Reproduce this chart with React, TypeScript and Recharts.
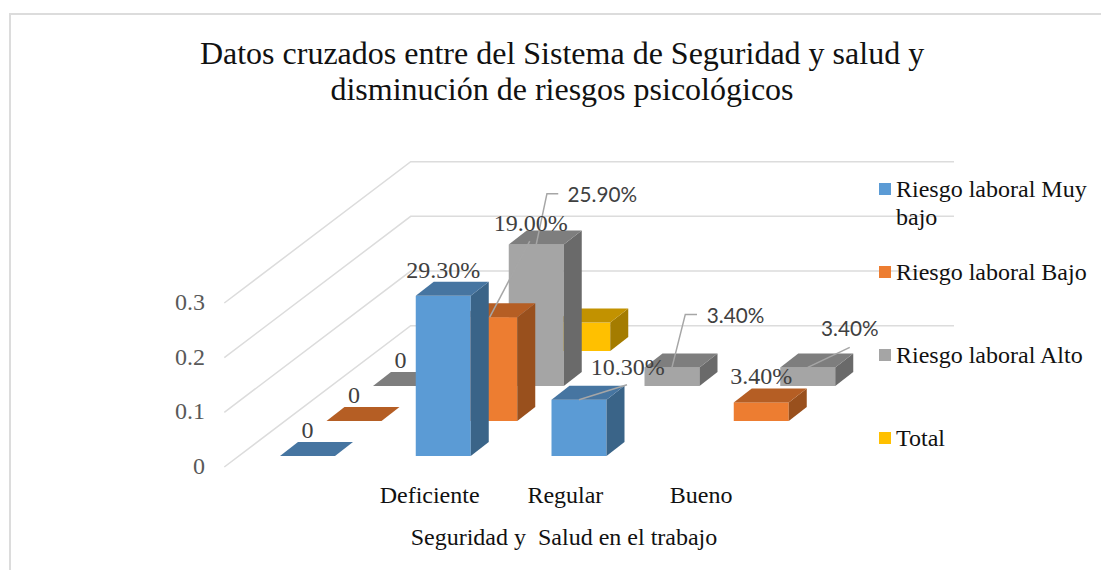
import React from "react";
import { BarChart, Bar, XAxis, YAxis, CartesianGrid, Legend, LabelList } from "recharts";

const categories = ["", "Deficiente", "Regular", "Bueno"];
const muyBajo = [0, 0.293, 0.103, null];
const bajo = [0, 0.19, null, 0.034];
const alto = [0, 0.259, 0.034, 0.034];
const total = [null, 0.052, null, null];
const yTicks = [0, 0.1, 0.2, 0.3];

const rows = categories.map((category, i) => ({
  category,
  muyBajo: muyBajo[i],
  bajo: bajo[i],
  alto: alto[i],
  total: total[i],
}));

const FONT = "'Liberation Serif', 'Times New Roman', serif";
const BAR_W = 55;
const STEP_X = 46.5;
const STEP_Y = 35;
const SIDE_X = 18;
const SIDE_Y = 14;

const SERIES = [
  { key: "muyBajo", name: "Riesgo laboral Muy bajo", depth: 0, front: "#5b9bd5", top: "#4675a1", side: "#3a6488", labelled: true },
  { key: "bajo", name: "Riesgo laboral Bajo", depth: 1, front: "#ed7d31", top: "#b55e24", side: "#99501d", labelled: true },
  { key: "alto", name: "Riesgo laboral Alto", depth: 2, front: "#a5a5a5", top: "#7e7e7e", side: "#6a6a6a", labelled: true },
  { key: "total", name: "Total", depth: 3, front: "#ffc000", top: "#c29200", side: "#a47c00", labelled: false },
];

type Callout = { line: number[][]; dx: number; dy: number; sans?: boolean };
const CALLOUTS: Record<string, Callout> = {
  "bajo-1": { line: [[0, 0], [40, -76]], dx: 41, dy: -86 },
  "alto-1": { line: [[0, 0], [10.7, -50.7], [22, -50.7]], dx: 66, dy: -42, sans: true },
  "muyBajo-2": { line: [[0, 0], [48, -15]], dx: 48.7, dy: -25 },
  "alto-2": { line: [[0, 0], [13.3, -53], [25, -53]], dx: 63.5, dy: -44, sans: true },
  "alto-3": { line: [[0, 0], [42, -20]], dx: 42, dy: -31, sans: true },
};

function boxShape(s: (typeof SERIES)[number]) {
  return (props: any) => {
    const { x, y, width, height, payload } = props;
    if (payload == null || payload[s.key] == null) return <g />;
    const left = x + s.depth * STEP_X;
    const right = left + width;
    const top = y - s.depth * STEP_Y;
    const bottom = top + height;
    return (
      <g>
        {height > 0 && <rect x={left} y={top} width={width} height={height} fill={s.front} />}
        {height > 0 && (
          <polygon
            points={`${right},${top} ${right + SIDE_X},${top - SIDE_Y} ${right + SIDE_X},${bottom - SIDE_Y} ${right},${bottom}`}
            fill={s.side}
          />
        )}
        <polygon
          points={`${left},${top} ${left + SIDE_X},${top - SIDE_Y} ${right + SIDE_X},${top - SIDE_Y} ${right},${top}`}
          fill={s.top}
        />
      </g>
    );
  };
}

function barLabel(s: (typeof SERIES)[number]) {
  return (props: any) => {
    const { value, index } = props;
    if (value == null) return null;
    const box = props.viewBox ?? props;
    const cx = box.x + box.width / 2 + s.depth * STEP_X;
    const top = box.y - s.depth * STEP_Y;
    const text = value === 0 ? "0" : `${(value * 100).toFixed(2)}%`;
    const c = CALLOUTS[`${s.key}-${index}`];
    return (
      <g>
        {c && (
          <polyline
            points={c.line.map(([a, b]) => `${cx + a},${top + b}`).join(" ")}
            fill="none"
            stroke="#a6a6a6"
            strokeWidth={1.5}
          />
        )}
        <text
          x={cx + (c ? c.dx : 0)}
          y={top + (c ? c.dy : -18)}
          textAnchor="middle"
          fontFamily={c && c.sans ? "Lato, sans-serif" : FONT}
          fontSize={c && c.sans ? 20.7 : 24}
          fill="#404040"
        >
          {text}
        </text>
      </g>
    );
  };
}

const wallLine = (props: any) => {
  const { x1, y1, key } = props;
  return (
    <polyline
      key={key}
      points={`${x1 - 15.7},${y1 + 11} ${x1 + 170.7},${y1 - 130.3} ${x1 + 714},${y1 - 130.3}`}
      fill="none"
      stroke="#dcdcdc"
      strokeWidth={1.5}
    />
  );
};

const XTick = (props: any) => (
  <text x={props.x - 14} y={props.y + 39} textAnchor="middle" fontFamily={FONT} fontSize={24} fill="#111">
    {props.payload.value}
  </text>
);

const YTick = (props: any) => (
  <text x={props.x - 27} y={props.y + 18} textAnchor="end" fontFamily={FONT} fontSize={24} fill="#595959">
    {props.payload.value}
  </text>
);

const LegendBox = () => (
  <div style={{ position: "absolute", left: 879, top: 175, width: 215, fontFamily: FONT, fontSize: 24, lineHeight: "28px", color: "#111" }}>
    {SERIES.map((s, i) => (
      <div key={s.key} style={{ position: "absolute", top: i * 83, left: 0, width: 215, paddingLeft: 17, boxSizing: "border-box" }}>
        <span style={{ position: "absolute", left: 0, top: 8, width: 12, height: 12, background: s.front }} />
        {s.name}
      </div>
    ))}
  </div>
);

const AxisTitle = () => (
  <text x={564} y={545} textAnchor="middle" fontFamily={FONT} fontSize={24} fill="#111" style={{ whiteSpace: "pre" }}>
    {"Seguridad y  Salud en el trabajo"}
  </text>
);

export default function App() {
  return (
    <div style={{ position: "absolute", left: 0, top: 0, width: 1101, height: 570, overflow: "hidden", background: "#fff" }}>
      <div
        style={{
          position: "absolute",
          left: 9,
          top: 13,
          width: 1092,
          height: 557,
          borderTop: "2px solid #dcdcdc",
          borderLeft: "2px solid #dcdcdc",
        }}
      />
      <div
        style={{
          position: "absolute",
          left: 162,
          top: 35,
          width: 800,
          textAlign: "center",
          fontFamily: FONT,
          fontSize: 32,
          lineHeight: "36px",
          color: "#111",
        }}
      >
        Datos cruzados entre del Sistema de Seguridad y salud y
        <br />
        disminución de riesgos psicológicos
      </div>
      <div style={{ position: "absolute", left: 0, top: 0 }}>
        <BarChart
          width={1101}
          height={570}
          data={rows}
          margin={{ top: 292, right: 318, bottom: 84, left: 200 }}
          barSize={BAR_W}
          barGap={-BAR_W}
        >
          <CartesianGrid vertical={false} horizontal={wallLine} />
          <XAxis
            dataKey="category"
            axisLine={false}
            tickLine={false}
            interval={0}
            height={30}
            tick={XTick}
            label={<AxisTitle />}
          />
          <YAxis
            type="number"
            domain={[0, 0.3]}
            ticks={yTicks}
            width={40}
            axisLine={false}
            tickLine={false}
            tick={YTick}
          />
          <Legend content={<LegendBox />} wrapperStyle={{ position: "absolute", left: 0, top: 0, width: 0, height: 0 }} />
          {[...SERIES].reverse().map((s) => (
            <Bar key={s.key} dataKey={s.key} name={s.name} isAnimationActive={false} shape={boxShape(s)}>
              {s.labelled && <LabelList dataKey={s.key} content={barLabel(s)} />}
            </Bar>
          ))}
        </BarChart>
      </div>
    </div>
  );
}
